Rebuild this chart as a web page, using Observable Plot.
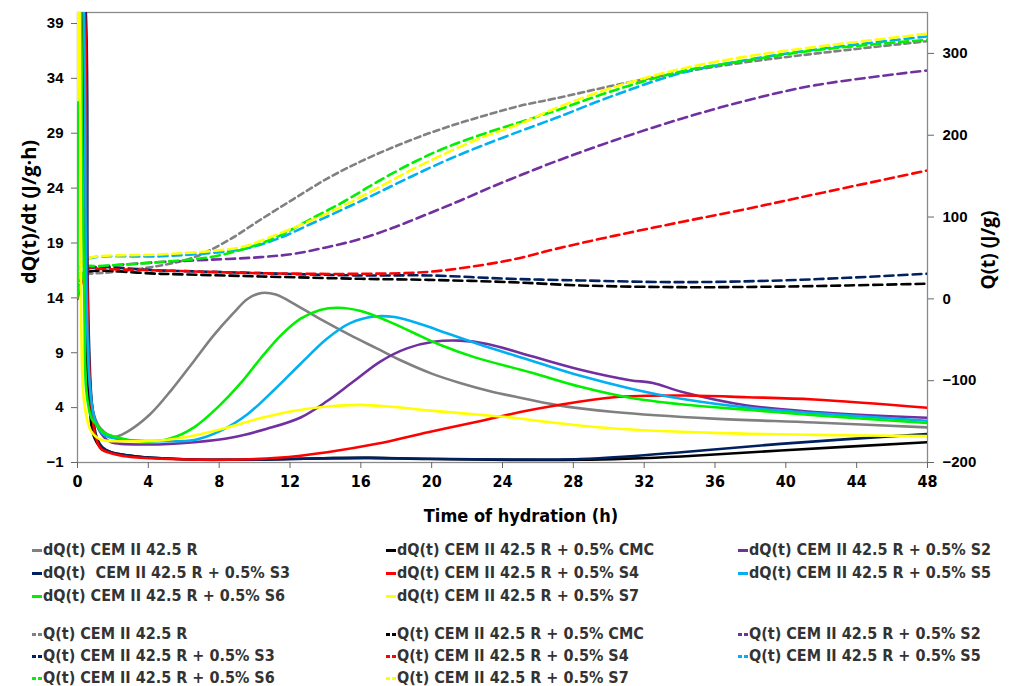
<!DOCTYPE html>
<html><head><meta charset="utf-8">
<script src="https://cdn.jsdelivr.net/npm/d3@7"></script>
<script src="https://cdn.jsdelivr.net/npm/@observablehq/plot@0.6"></script>
<style>
body{margin:0;background:#fff;}
#wrap{position:relative;width:1010px;height:686px;overflow:hidden;background:#fff;}
#legend{position:absolute;left:0;top:530px;width:1010px;height:156px;font-family:"Liberation Sans Narrow","Arial Narrow","DejaVu Sans Condensed",sans-serif;font-weight:bold;font-size:16px;color:#333;}
.item{position:absolute;display:flex;align-items:center;white-space:pre;line-height:16px;height:16px;}
.mk{display:inline-block;width:10px;height:3px;margin-right:1px;}
</style></head><body><div id="wrap"><div id="chart"></div><div id="legend"></div></div>
<script>
// ---- data ----
const seriesKeys = ["R","CMC","S2","S3","S4","S5","S6","S7"];
const seriesColors = ["#808080","#000000","#7030a0","#002060","#ff0000","#00b0f0","#00f000","#ffff00"];
const dqLabels = ["dQ(t) CEM II 42.5 R","dQ(t) CEM II 42.5 R + 0.5% CMC","dQ(t) CEM II 42.5 R + 0.5% S2","dQ(t)  CEM II 42.5 R + 0.5% S3","dQ(t) CEM II 42.5 R + 0.5% S4","dQ(t) CEM II 42.5 R + 0.5% S5","dQ(t) CEM II 42.5 R + 0.5% S6","dQ(t) CEM II 42.5 R + 0.5% S7"];
const qLabels = ["Q(t) CEM II 42.5 R","Q(t) CEM II 42.5 R + 0.5% CMC","Q(t) CEM II 42.5 R + 0.5% S2","Q(t) CEM II 42.5 R + 0.5% S3","Q(t) CEM II 42.5 R + 0.5% S4","Q(t) CEM II 42.5 R + 0.5% S5","Q(t) CEM II 42.5 R + 0.5% S6","Q(t) CEM II 42.5 R + 0.5% S7"];
const xTicks = [0,4,8,12,16,20,24,28,32,36,40,44,48];
const yLeftTicks = [-1,4,9,14,19,24,29,34,39];
const yRightTicks = [-200,-100,0,100,200,300];

// dQ(t)/dt  [time h, J/g·h]
const dqR   = [[0,50],[0.3,40],[0.45,15],[0.6,7],[0.9,3.5],[1.3,2.1],[2.07,1.35],[2.8,1.8],[4.1,3.4],[5.3,5.6],[6.6,8.3],[7.7,10.6],[8.8,12.6],[9.6,13.9],[10.4,14.45],[11.2,14.3],[12.4,13.3],[13.9,11.9],[15.4,10.6],[16.9,9.4],[18.4,8.2],[20.0,7.1],[21.6,6.25],[23.3,5.5],[25.0,4.9],[27.0,4.25],[30.3,3.6],[35.9,3.0],[41.6,2.65],[48,2.2]];
const dqCMC = [[0,50],[0.32,40],[0.45,15],[0.65,5],[0.9,1.5],[1.3,0.4],[1.9,-0.06],[2.8,-0.35],[3.76,-0.52],[6,-0.7],[8.5,-0.75],[12,-0.68],[14.5,-0.6],[16.5,-0.58],[19.8,-0.68],[24.5,-0.76],[28.4,-0.75],[31,-0.65],[34.1,-0.45],[39.7,0.09],[48,0.85]];
const dqS2  = [[0,50],[0.35,40],[0.5,15],[0.7,6],[1.0,2.8],[1.5,1.3],[1.9,0.85],[3.76,0.64],[6.6,0.85],[8.8,1.3],[10.7,2.07],[12.6,3.1],[14.1,4.6],[15.6,6.4],[17.1,8.2],[18.6,9.4],[20.1,10.0],[21.6,10.1],[23.15,9.8],[25.6,8.7],[28.4,7.45],[31.2,6.5],[32.5,6.25],[34.1,5.45],[37.8,4.2],[41.6,3.6],[48,3.07]];
const dqS3  = [[0,50],[0.47,40],[0.58,15],[0.78,5],[1.05,1.5],[1.4,0.4],[1.9,-0.06],[2.8,-0.35],[3.76,-0.52],[6,-0.7],[8.5,-0.75],[12,-0.68],[14.5,-0.6],[16.5,-0.58],[19.8,-0.66],[24.5,-0.73],[28.4,-0.68],[31,-0.45],[34.1,-0.06],[39.7,0.7],[48,1.6]];
const dqS4  = [[0,50],[0.42,40],[0.55,15],[0.75,5],[1.0,1.5],[1.32,0.25],[2.0,-0.2],[2.8,-0.45],[4.7,-0.66],[8.5,-0.75],[11.3,-0.57],[14.1,-0.06],[16.9,0.7],[19.8,1.76],[22.7,2.75],[25.0,3.6],[27.0,4.2],[30.3,4.95],[34.1,5.1],[37.8,4.95],[41.6,4.74],[48,3.98]];
const dqS5  = [[0,50],[0.35,40],[0.5,15],[0.7,6],[1.0,2.8],[1.5,1.5],[2.5,1.1],[4.5,0.95],[6.6,1.05],[8.1,1.9],[9.6,3.4],[11.1,5.6],[12.6,8.0],[14.1,10.3],[15.4,11.7],[16.75,12.3],[17.9,12.25],[19.4,11.6],[20.9,10.75],[22.8,9.7],[25.6,8.3],[28.4,6.9],[31.2,5.75],[34.1,4.8],[37.8,4.0],[41.6,3.5],[48,2.8]];
const dqS6  = [[0,14],[0.02,32],[0.08,50],[0.2,40],[0.25,30],[0.4,12],[0.5,5.5],[0.8,3.0],[1.1,2.4],[1.4,1.8],[2.45,1.2],[3.95,0.9],[5.27,1.2],[6.58,2.2],[7.9,4.0],[9.2,6.2],[10.35,8.5],[11.5,10.6],[12.6,12.1],[13.7,12.9],[14.7,13.1],[16,12.8],[17.5,11.9],[19,10.8],[20.5,9.7],[22.4,8.6],[25.6,7.2],[28.4,5.9],[31.2,4.9],[34.1,4.3],[37.8,3.8],[41.6,3.3],[48,2.6]];
const dqS7  = [[0,32],[0.03,50],[0.12,40],[0.19,20],[0.22,10.7],[0.37,4.6],[0.75,1.9],[1.3,1.1],[2.8,0.94],[4.7,1.0],[6.6,1.46],[8.5,2.2],[10.35,3.05],[12.2,3.7],[14.1,4.1],[16,4.25],[17.9,4.05],[19.8,3.75],[21.6,3.5],[24.5,3.1],[26.5,2.7],[30.3,2.1],[35.9,1.7],[41.6,1.52],[48,1.4]];

// Q(t)  [time h, J/g]
const qR   = [[0,10],[0.3,28],[0.5,30],[1.9,32.6],[4.7,40.8],[6.6,51],[8.5,71.4],[10.35,97],[12.2,122],[14.1,147],[16,168],[17.9,186],[19.8,202],[21.6,215],[23.3,226],[25.0,236],[27.0,245],[30.3,260.9],[34.1,277],[37.8,289.4],[41.6,299.6],[48,315]];
const qCMC = [[0,5],[0.3,28],[0.6,33],[4.7,30.6],[10.35,27.4],[16,24.5],[19.8,23.2],[24.5,20.4],[28.4,16.4],[34.1,14.3],[39.7,15],[43.5,16.4],[48,18.5]];
const qS2  = [[0,5],[0.3,30],[0.6,38],[1,39],[4.7,45],[7.5,47.8],[10.35,51],[12.2,55],[14.1,63.2],[16,73.4],[17.9,87.6],[19.8,104],[21.6,120],[23.3,136],[25.0,151],[27.0,168],[30.3,193.6],[34.1,220.2],[37.8,242.5],[41.6,260.9],[48,279.2]];
const qS3  = [[0,5],[0.3,30],[0.6,37],[4.7,34.7],[10.35,31.4],[16,28.6],[19.8,28.6],[24.5,24.5],[28.4,22.5],[34.1,20.4],[39.7,22.5],[43.5,25.8],[48,30.7]];
const qS4  = [[0,0],[0.3,25],[0.56,38],[1,37],[4.7,34.7],[10.35,31.4],[16,30.6],[19.8,33],[22.7,40.8],[25.0,50],[27.0,61],[30.3,77],[34.1,94],[37.8,110],[41.6,127.6],[48,157]];
const qS5  = [[0,20],[0.2,40],[0.5,48.5],[4.7,52],[7.5,56],[9.4,61],[11.3,73.4],[13.2,91.8],[15.05,110],[16.9,129],[18.8,149],[20.7,168],[22.7,186],[25.0,205],[27.0,221],[30.3,248.7],[34.1,276],[37.8,292],[41.6,304.5],[48,320.8]];
const qS6  = [[0,5],[0.3,30],[0.6,40],[0.94,40],[4.7,45],[7.5,51],[9.4,61],[11.3,76],[13.2,97.9],[15.05,119],[16.9,142.7],[18.8,165],[20.7,184],[22.7,200],[25.0,216],[27.0,230],[30.3,254.8],[34.1,278],[37.8,291.4],[41.6,303.7],[48,316.7]];
const qS7  = [[0,20],[0.2,40],[0.5,48.5],[4.7,54.3],[7.5,58.3],[9.4,64],[11.3,79],[13.2,95.8],[15.05,114],[16.9,135],[18.8,157],[20.7,177],[22.7,196],[25.0,214],[27.0,233],[30.3,258.8],[34.1,281.2],[37.8,296.3],[41.6,307.7],[48,324]];

const dqSeries = [dqR,dqCMC,dqS2,dqS3,dqS4,dqS5,dqS6,dqS7];
const qSeries  = [qR,qCMC,qS2,qS3,qS4,qS5,qS6,qS7];

// ---- secondary axis mapping (Q → left scale units) ----
const leftDomain = [-1, 40], rightDomain = [-200, 350];
const toL = q => leftDomain[0] + (q - rightDomain[0]) * (leftDomain[1]-leftDomain[0]) / (rightDomain[1]-rightDomain[0]);
const fromL = v => rightDomain[0] + (v - leftDomain[0]) * (rightDomain[1]-rightDomain[0]) / (leftDomain[1]-leftDomain[0]);
const minus = d => d < 0 ? "\u2212" + Math.abs(d) : String(d);

const axisFont = "'Liberation Sans', Arial, sans-serif";
const narrowFont = "'Liberation Sans Narrow', 'Arial Narrow', 'DejaVu Sans Condensed', sans-serif";

const marks = [
  Plot.frame({stroke: "#8a8a8a", strokeWidth: 1.3}),
  Plot.axisX({ticks: xTicks, tickSize: 6, tickPadding: 7, label: null, stroke: "#666", fontSize: 16, fontWeight: "bold", fontFamily: narrowFont}),
  Plot.axisY({anchor: "left", ticks: yLeftTicks, tickFormat: minus, tickSize: 6, tickPadding: 8, label: null, stroke: "#666", fontSize: 15, fontWeight: "bold", fontFamily: axisFont}),
  Plot.axisY({anchor: "right", ticks: yRightTicks.map(toL), tickFormat: v => minus(Math.round(fromL(v))), tickSize: 6, tickPadding: 9, label: null, stroke: "#666", fontSize: 15, fontWeight: "bold", fontFamily: axisFont})
];
qSeries.forEach((s, i) => {
  marks.push(Plot.line(s, {x: d => d[0], y: d => toL(d[1]), stroke: seriesColors[i], strokeWidth: 2.6,
    strokeDasharray: i === 0 ? "6,4" : "9,5", curve: "catmull-rom", clip: true}));
});
dqSeries.forEach((s, i) => {
  marks.push(Plot.line(s, {x: d => d[0], y: d => d[1], stroke: seriesColors[i], strokeWidth: 2.6,
    curve: "catmull-rom", clip: true}));
});

const chart = Plot.plot({
  width: 1010, height: 530,
  marginTop: 12, marginBottom: 68, marginLeft: 77, marginRight: 83,
  x: {domain: [0, 48]},
  y: {domain: leftDomain},
  style: {background: "white", color: "#000", overflow: "visible"},
  marks
});
document.getElementById("chart").appendChild(chart);

const svg = d3.select(chart);
svg.append("text").attr("transform", "translate(28,212) rotate(-90)")
  .attr("text-anchor", "middle").attr("dominant-baseline", "central")
  .style("font", "bold 20px 'Open Sans', sans-serif").attr("fill", "#000")
  .text("dQ(t)/dt (J/g\u00b7h)");
svg.append("text").attr("transform", "translate(988,250) rotate(-90)")
  .attr("text-anchor", "middle").attr("dominant-baseline", "central")
  .style("font", "bold 19px 'Open Sans', sans-serif").attr("fill", "#000")
  .text("Q(t) (J/g)");
svg.append("text").attr("x", 521).attr("y", 515)
  .attr("text-anchor", "middle").attr("dominant-baseline", "central")
  .style("font", "bold 18px " + narrowFont).attr("fill", "#000")
  .text("Time of hydration (h)");

// ---- legend ----
const legend = document.getElementById("legend");
const colX = [32, 386, 738];
const rowY1 = [550, 573, 596], rowY2 = [634, 656, 678];
function addItem(label, color, dashed, idx, rows) {
  const col = idx % 3, row = Math.floor(idx / 3);
  const el = document.createElement("div");
  el.className = "item";
  el.style.left = colX[col] + "px";
  el.style.top = (rows[row] - 530 - 8) + "px";
  const mk = document.createElement("span");
  mk.className = "mk";
  mk.style.background = dashed
    ? `linear-gradient(to right, ${color} 0 4px, transparent 4px 6px, ${color} 6px 10px)`
    : color;
  el.appendChild(mk);
  el.appendChild(document.createTextNode(label));
  legend.appendChild(el);
}
dqLabels.forEach((l, i) => addItem(l, seriesColors[i], false, i, rowY1));
qLabels.forEach((l, i) => addItem(l, seriesColors[i], true, i, rowY2));
</script></body></html>
